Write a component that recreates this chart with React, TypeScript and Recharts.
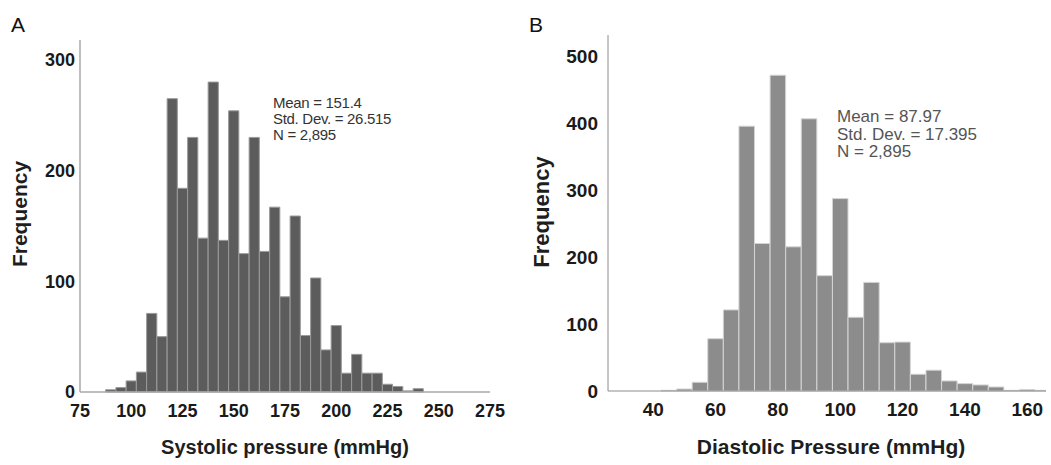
import { BarChart, Bar, XAxis, YAxis } from "recharts";

// systolic histogram (panel A), bin centers in mmHg
const systolicBins = [
  90, 95, 100, 105, 110, 115, 120, 125, 130, 135, 140, 145, 150, 155, 160, 165, 170, 175, 180, 185, 190, 195,
  200, 205, 210, 215, 220, 225, 230, 235, 240,
];
const systolicCounts = [
  2, 4, 10, 18, 71, 50, 265, 184, 230, 139, 280, 137, 254, 125, 230, 127, 167, 86, 159, 51, 103, 38, 60, 17, 34,
  17, 17, 7, 5, 1, 3,
];
const systolicXTicks = [75, 100, 125, 150, 175, 200, 225, 250, 275];
const systolicYTicks = [0, 100, 200, 300];
const systolicStats = ["Mean = 151.4", "Std. Dev. = 26.515", "N = 2,895"];

// diastolic histogram (panel B)
const diastolicBins = [
  45, 50, 55, 60, 65, 70, 75, 80, 85, 90, 95, 100, 105, 110, 115, 120, 125, 130, 135, 140, 145, 150, 155, 160, 165,
];
const diastolicCounts = [
  1, 3, 13, 78, 121, 395, 220, 471, 215, 406, 172, 287, 110, 162, 72, 73, 25, 31, 15, 11, 9, 6, 1, 2, 1,
];
const diastolicXTicks = [40, 60, 80, 100, 120, 140, 160];
const diastolicYTicks = [0, 100, 200, 300, 400, 500];
const diastolicStats = ["Mean = 87.97", "Std. Dev. = 17.395", "N = 2,895"];

const BIN = 5;

const systolicData = systolicBins.map((bp, i) => ({ bp, count: systolicCounts[i] }));
const diastolicData = diastolicBins.map((bp, i) => ({ bp, count: diastolicCounts[i] }));

const FONT = '"Liberation Sans", Arial, sans-serif';

// panel A geometry
const A_W = 520;
const A_MARGIN = { top: 40, right: 30, bottom: 43, left: 0 };
const A_YW = 80;
const A_XDOM: [number, number] = [75, 275];
const A_BAR = (BIN * (A_W - A_MARGIN.right - A_YW)) / (A_XDOM[1] - A_XDOM[0]) - 0.05;

// panel B geometry
const B_W = 531;
const B_MARGIN = { top: 35, right: 5, bottom: 44, left: 0 };
const B_YW = 88;
const B_XDOM: [number, number] = [25.5, 166];
const B_BAR = (BIN * (B_W - B_MARGIN.right - B_YW)) / (B_XDOM[1] - B_XDOM[0]) - 0.05;

function Rotated({ x, y, children, size }: { x: number; y: number; children: string; size: number }) {
  return (
    <div
      style={{
        position: "absolute",
        left: x,
        top: y,
        transform: "translate(-50%, -50%) rotate(-90deg)",
        whiteSpace: "nowrap",
        fontFamily: FONT,
        fontWeight: 700,
        fontSize: size,
        color: "#1e1e1e",
      }}
    >
      {children}
    </div>
  );
}

function Centered({ x, y, children, size }: { x: number; y: number; children: string; size: number }) {
  return (
    <div
      style={{
        position: "absolute",
        left: x,
        top: y,
        transform: "translate(-50%, -50%)",
        whiteSpace: "nowrap",
        fontFamily: FONT,
        fontWeight: 700,
        fontSize: size,
        color: "#1e1e1e",
      }}
    >
      {children}
    </div>
  );
}

export default function App() {
  const tickA = { fontFamily: FONT, fontWeight: 700, fontSize: 18, fill: "#1a1a1a" };
  const tickB = { fontFamily: FONT, fontWeight: 700, fontSize: 19, fill: "#1a1a1a" };

  return (
    <div style={{ position: "absolute", left: 0, top: 0, width: 1051, height: 465, background: "#fff" }}>
      <div style={{ position: "absolute", left: 0, top: 0 }}>
        <BarChart width={A_W} height={465} data={systolicData} margin={A_MARGIN} barCategoryGap={0}>
          <XAxis
            type="number"
            dataKey="bp"
            domain={A_XDOM}
            ticks={systolicXTicks}
            interval={0}
            height={30}
            axisLine={{ stroke: "#a8a8a8", strokeWidth: 1.5 }}
            tickLine={false}
            tickSize={6}
            tickMargin={6}
            tick={tickA}
          />
          <YAxis
            type="number"
            domain={[0, 318]}
            ticks={systolicYTicks}
            interval={0}
            width={A_YW}
            axisLine={{ stroke: "#a8a8a8", strokeWidth: 1.5 }}
            tickLine={false}
            tickSize={3}
            tickMargin={2}
            tick={tickA}
          />
          <Bar dataKey="count" fill="#5c5c5c" stroke="#9a9a9a" strokeWidth={1} barSize={A_BAR} isAnimationActive={false} />
        </BarChart>
      </div>

      <div style={{ position: "absolute", left: 520, top: 0 }}>
        <BarChart width={B_W} height={465} data={diastolicData} margin={B_MARGIN} barCategoryGap={0}>
          <XAxis
            type="number"
            dataKey="bp"
            domain={B_XDOM}
            ticks={diastolicXTicks}
            interval={0}
            height={30}
            allowDataOverflow
            axisLine={{ stroke: "#8c8c8c", strokeWidth: 1 }}
            tickLine={false}
            tickSize={6}
            tickMargin={6}
            tick={tickB}
          />
          <YAxis
            type="number"
            domain={[0, 531]}
            ticks={diastolicYTicks}
            interval={0}
            width={B_YW}
            axisLine={{ stroke: "#8c8c8c", strokeWidth: 1 }}
            tickLine={false}
            tickSize={6}
            tickMargin={4}
            tick={tickB}
          />
          <Bar dataKey="count" fill="#8c8c8c" stroke="#d4d4d4" strokeWidth={1} barSize={B_BAR} isAnimationActive={false} />
        </BarChart>
      </div>

      {/* panel letters */}
      <div style={{ position: "absolute", left: 11, top: 13, fontFamily: FONT, fontSize: 21, color: "#111" }}>A</div>
      <div style={{ position: "absolute", left: 529, top: 13, fontFamily: FONT, fontSize: 21, color: "#111" }}>B</div>

      {/* axis titles */}
      <Rotated x={20} y={214} size={21}>Frequency</Rotated>
      <Rotated x={542} y={212} size={22}>Frequency</Rotated>
      <Centered x={285} y={447} size={20}>Systolic pressure (mmHg)</Centered>
      <Centered x={831} y={447} size={21}>Diastolic Pressure (mmHg)</Centered>

      {/* summary stats */}
      <div
        style={{
          position: "absolute",
          left: 273,
          top: 95,
          fontFamily: FONT,
          fontSize: 15,
          lineHeight: "16px",
          color: "#333",
          letterSpacing: -0.3,
          whiteSpace: "nowrap",
        }}
      >
        {systolicStats.map(s => (
          <div key={s}>{s}</div>
        ))}
      </div>
      <div
        style={{
          position: "absolute",
          left: 837,
          top: 108,
          fontFamily: FONT,
          fontSize: 17,
          lineHeight: "17.5px",
          color: "#555",
          whiteSpace: "nowrap",
        }}
      >
        {diastolicStats.map(s => (
          <div key={s}>{s}</div>
        ))}
      </div>
    </div>
  );
}
